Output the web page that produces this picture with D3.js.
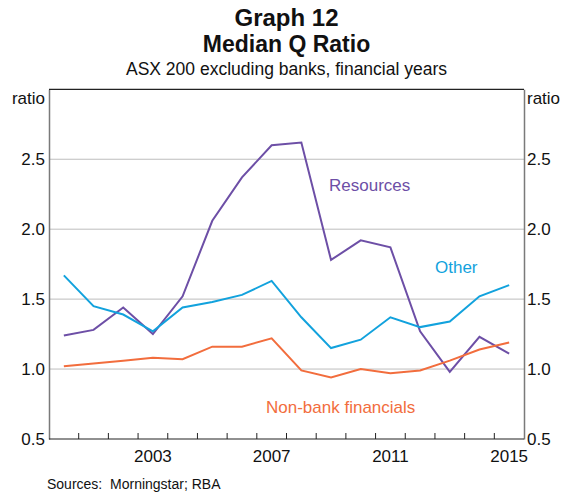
<!DOCTYPE html>
<html>
<head>
<meta charset="utf-8">
<script src="https://cdn.jsdelivr.net/npm/d3@7"></script>
<style>
	body { margin: 0; background: #fff; }
	svg { display: block; font-family: Arial, 'Liberation Sans', sans-serif; }
</style>
</head>
<body>
<div class="chart"></div>
<script>

// Data (financial years, median Q ratio)

var years = d3.range(2000, 2016);
var resources = [1.24, 1.28, 1.44, 1.25, 1.52, 2.06, 2.37, 2.60, 2.62, 1.78, 1.92, 1.87, 1.27, 0.98, 1.23, 1.11];
var other = [1.67, 1.45, 1.39, 1.27, 1.44, 1.48, 1.53, 1.63, 1.37, 1.15, 1.21, 1.37, 1.30, 1.34, 1.52, 1.60];
var nonBank = [1.02, 1.04, 1.06, 1.08, 1.07, 1.16, 1.16, 1.22, 0.99, 0.94, 1.00, 0.97, 0.99, 1.06, 1.14, 1.19];
var yTicks = [0.5, 1.0, 1.5, 2.0, 2.5];
var yearLabels = [2003, 2007, 2011, 2015];

var series = [
	{name: 'Resources', values: resources, color: '#6d4fa6', lx: 329, ly: 191},
	{name: 'Other', values: other, color: '#12a2dd', lx: 435, ly: 273},
	{name: 'Non-bank financials', values: nonBank, color: '#f26d3d', lx: 266, ly: 413}
];

var
	width = 571,
	height = 495,
	plotLeft = 49,
	plotRight = 524,
	plotTop = 89.3,
	plotBottom = 439,

	svg = d3.select('.chart').append('svg')
		.attr('width', width)
		.attr('height', height),

	x = d3.scaleBand()
		.domain(years)
		.range([plotLeft, plotRight]),

	y = d3.scaleLinear()
		.domain([0.5, 3.0])
		.range([plotBottom, plotTop]);

// Titles

svg.append('text')
	.attr('x', width / 2 + 1)
	.attr('y', 26)
	.attr('text-anchor', 'middle')
	.style('font-size', '24px')
	.style('font-weight', 'bold')
	.style('fill', '#111')
	.text('Graph 12');

svg.append('text')
	.attr('x', width / 2 + 1)
	.attr('y', 52)
	.attr('text-anchor', 'middle')
	.style('font-size', '23px')
	.style('font-weight', 'bold')
	.style('fill', '#111')
	.text('Median Q Ratio');

svg.append('text')
	.attr('x', width / 2 + 1)
	.attr('y', 75)
	.attr('text-anchor', 'middle')
	.style('font-size', '17.5px')
	.style('fill', '#111')
	.text('ASX 200 excluding banks, financial years');

// Gridlines

svg.append('g')
	.selectAll('line')
	.data(yTicks.slice(1))
	.enter()
	.append('line')
	.attr('x1', plotLeft)
	.attr('x2', plotRight)
	.attr('y1', function(d) {return y(d);})
	.attr('y2', function(d) {return y(d);})
	.style('stroke', '#bdbdbd')
	.style('stroke-width', 1);

// Axes

var leftAxis = svg.append('g')
	.attr('transform', 'translate(' + plotLeft + ',0)')
	.call(d3.axisLeft(y).tickValues(yTicks).tickSize(0).tickPadding(4).tickFormat(d3.format('.1f')));

var rightAxis = svg.append('g')
	.attr('transform', 'translate(' + plotRight + ',0)')
	.call(d3.axisRight(y).tickValues(yTicks).tickSize(0).tickPadding(3).tickFormat(d3.format('.1f')));

[leftAxis, rightAxis].forEach(function(a) {
	a.select('.domain').style('stroke', '#7a7a7a').style('stroke-width', 1.5);
	a.selectAll('text')
		.style('font-size', '17px')
		.style('fill', '#111')
		.style('font-family', "Arial, 'Liberation Sans', sans-serif");
});

// top frame line
svg.append('line')
	.attr('x1', plotLeft)
	.attr('x2', plotRight)
	.attr('y1', plotTop)
	.attr('y2', plotTop)
	.style('stroke', '#222')
	.style('stroke-width', 1.2);

// bottom axis with inward ticks at year boundaries
var boundaries = years.slice(1).map(function(d) {return x(d);});

svg.append('g')
	.selectAll('line')
	.data(boundaries)
	.enter()
	.append('line')
	.attr('x1', function(d) {return d;})
	.attr('x2', function(d) {return d;})
	.attr('y1', plotBottom)
	.attr('y2', plotBottom - 6)
	.style('stroke', '#222')
	.style('stroke-width', 1);

svg.append('line')
	.attr('x1', plotLeft)
	.attr('x2', plotRight)
	.attr('y1', plotBottom)
	.attr('y2', plotBottom)
	.style('stroke', '#222')
	.style('stroke-width', 1.2);

svg.append('g')
	.selectAll('text')
	.data(yearLabels)
	.enter()
	.append('text')
	.attr('x', function(d) {return x(d) + x.bandwidth() / 2;})
	.attr('y', 462)
	.attr('text-anchor', 'middle')
	.style('font-size', '17px')
	.style('fill', '#111')
	.text(function(d) {return d;});

// unit labels
svg.append('text')
	.attr('x', plotLeft - 4)
	.attr('y', 104)
	.attr('text-anchor', 'end')
	.style('font-size', '17px')
	.style('fill', '#111')
	.text('ratio');

svg.append('text')
	.attr('x', plotRight + 3)
	.attr('y', 104)
	.style('font-size', '17px')
	.style('fill', '#111')
	.text('ratio');

// Lines

var line = d3.line()
	.x(function(d, i) {return x(years[i]) + x.bandwidth() / 2;})
	.y(function(d) {return y(d);});

svg.append('g')
	.selectAll('path')
	.data(series)
	.enter()
	.append('path')
	.attr('d', function(d) {return line(d.values);})
	.style('fill', 'none')
	.style('stroke', function(d) {return d.color;})
	.style('stroke-width', 2)
	.style('stroke-linejoin', 'miter');

svg.append('g')
	.selectAll('text')
	.data(series)
	.enter()
	.append('text')
	.attr('x', function(d) {return d.lx;})
	.attr('y', function(d) {return d.ly;})
	.style('font-size', '17px')
	.style('fill', function(d) {return d.color;})
	.text(function(d) {return d.name;});

// Sources

svg.append('text')
	.attr('x', 47)
	.attr('y', 489)
	.style('font-size', '14px')
	.style('fill', '#111')
	.style('white-space', 'pre')
	.text('Sources:  Morningstar; RBA');

</script>
</body>
</html>
